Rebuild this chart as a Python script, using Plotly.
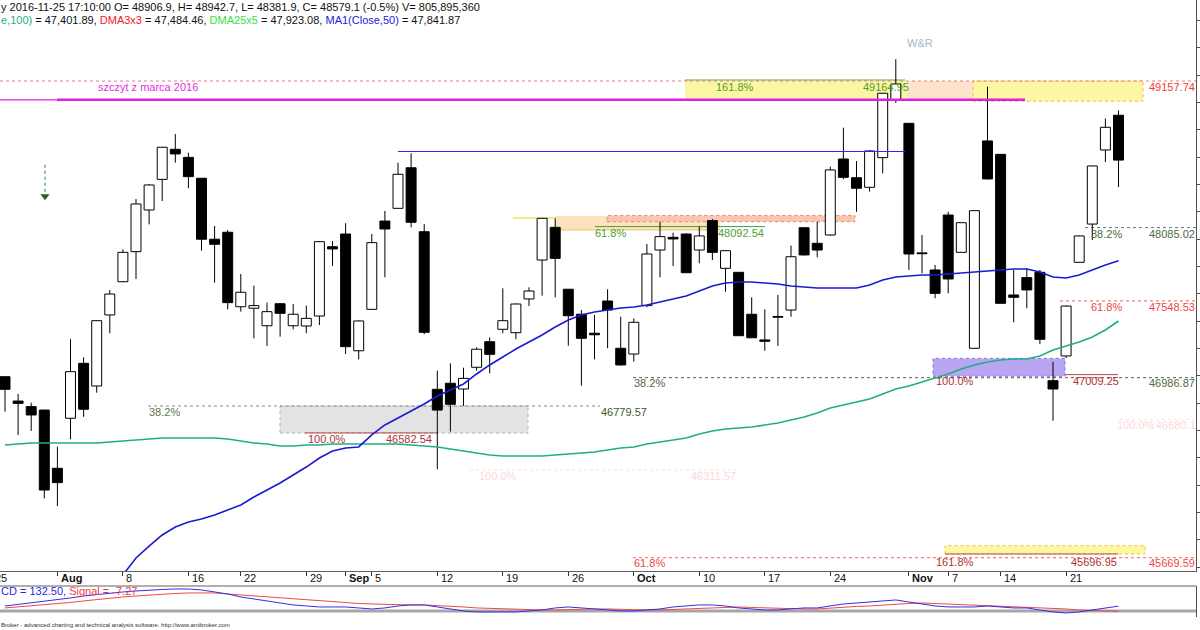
import plotly.graph_objects as go

# ---------------- data ----------------
dates = ["2016-07-26","2016-07-27","2016-07-28","2016-07-29",
 "2016-08-01","2016-08-02","2016-08-03","2016-08-04","2016-08-05","2016-08-08","2016-08-09","2016-08-10","2016-08-11","2016-08-12",
 "2016-08-16","2016-08-17","2016-08-18","2016-08-19","2016-08-22","2016-08-23","2016-08-24","2016-08-25","2016-08-26","2016-08-29","2016-08-30","2016-08-31",
 "2016-09-01","2016-09-02","2016-09-05","2016-09-06","2016-09-07","2016-09-08","2016-09-09","2016-09-12","2016-09-13","2016-09-14","2016-09-15","2016-09-16",
 "2016-09-19","2016-09-20","2016-09-21","2016-09-22","2016-09-23","2016-09-26","2016-09-27","2016-09-28","2016-09-29","2016-09-30",
 "2016-10-03","2016-10-04","2016-10-05","2016-10-06","2016-10-07","2016-10-10","2016-10-11","2016-10-12","2016-10-13","2016-10-14",
 "2016-10-17","2016-10-18","2016-10-19","2016-10-20","2016-10-21","2016-10-24","2016-10-25","2016-10-26","2016-10-27","2016-10-28","2016-10-31",
 "2016-11-02","2016-11-03","2016-11-04","2016-11-07","2016-11-08","2016-11-09","2016-11-10","2016-11-14","2016-11-15","2016-11-16","2016-11-17","2016-11-18",
 "2016-11-21","2016-11-22","2016-11-23","2016-11-24","2016-11-25"]

opens = [46994, 46816, 46775, 46750, 46324, 46690, 47092, 46926, 47446, 47689,
 47909, 48214, 48438, 48658, 48599, 48446, 48000, 48051, 47506, 47495,
 47367, 47528, 47367, 47365, 47438, 47945, 48038, 47184, 47487, 48133,
 48226, 48523, 48055, 46902, 46946, 46904, 47063, 47250, 47341, 47316,
 47563, 47848, 48087, 47634, 47451, 47312, 47548, 47202, 47160, 47514,
 47921, 48014, 48038, 47921, 48136, 47787, 47758, 47451, 47263, 47435,
 47482, 48084, 47970, 48031, 48587, 48450, 48380, 48597, 49019, 48848,
 47899, 47775, 48177, 47904, 47202, 48719, 48621, 47592, 47719, 47758,
 46965, 47146, 47831, 48111, 48653, 48906.9]
highs = [47000, 46868, 46804, 46752, 46482, 47268, 47136, 47409, 47629, 47926,
 48294, 48404, 48675, 48770, 48633, 48448, 48097, 48067, 47746, 47660,
 47536, 47533, 47526, 47514, 47987, 47987, 48117, 47405, 48038, 48207,
 48560, 48629, 48111, 47038, 47092, 47060, 47209, 47282, 47641, 47530,
 47648, 48155, 48153, 47636, 47482, 47446, 47634, 47433, 47421, 47965,
 48128, 48048, 48042, 48092, 48148, 47921, 47760, 47575, 47487, 47592,
 47953, 48089, 48128, 48531, 48816, 48572, 48649, 49070, 49317, 48850,
 48031, 47811, 48201, 48122, 48210, 49116, 48624, 47775, 47787, 47775,
 47104, 47515, 48027, 48539, 48883, 48942.7]
lows = [46738, 46568, 46597, 46104, 46048, 46536, 46701, 46877, 47312, 47687,
 47709, 48109, 48280, 48560, 48373, 47916, 47682, 47487, 47470, 47275,
 47219, 47287, 47341, 47312, 47372, 47804, 47160, 47121, 47482, 47721,
 48225, 48087, 47304, 46317, 46592, 46780, 47038, 47019, 47312, 47268,
 47511, 47587, 47575, 47221, 46928, 47121, 47202, 47076, 47104, 47502,
 47721, 47804, 47753, 47824, 47848, 47616, 47292, 47277, 47184, 47219,
 47433, 47881, 47868, 48027, 48439, 48201, 48348, 48482, 48997, 47775,
 47751, 47568, 47604, 47903, 47200, 48437, 47530, 47392, 47495, 47233,
 46672, 47131, 47830, 47994, 48565, 48381.9]
closes = [46902, 46799, 46714, 46165, 46219, 47031, 46756, 47404, 47599, 47904,
 48258, 48397, 48673, 48624, 48458, 48000, 47963, 47536, 47612, 47514,
 47470, 47458, 47451, 47421, 47982, 47929, 47214, 47402, 47975, 48075,
 48475, 48124, 47319, 46750, 46792, 46982, 47195, 47158, 47404, 47526,
 47621, 48153, 47860, 47440, 47275, 47301, 47482, 47080, 47392, 47892,
 48019, 48002, 47755, 48024, 47904, 47916, 47294, 47279, 47253, 47429,
 47872, 47885, 47921, 48507, 48453, 48373, 48646, 49068, 49136, 47892,
 47894, 47604, 47709, 48121, 48209, 48441, 47531, 47575, 47629, 47268,
 46904, 47511, 48024, 48536, 48819, 48579.1]

ma50_start = 9
ma50 = [45543, 45668, 45755, 45836, 45894, 45931, 45953, 45982, 46019, 46055,
 46114, 46165, 46216, 46275, 46333, 46399, 46450, 46472, 46480, 46568,
 46641, 46692, 46743, 46794, 46853, 46897, 46941, 47014, 47080, 47138,
 47197, 47248, 47299, 47358, 47409, 47446, 47468, 47482, 47497, 47504,
 47519, 47541, 47563, 47585, 47621, 47658, 47680, 47687, 47687, 47680,
 47672, 47658, 47650, 47643, 47643, 47643, 47643, 47665, 47702, 47724,
 47731, 47738, 47738, 47746, 47753, 47760, 47768, 47775, 47782, 47782,
 47760, 47724, 47716, 47738, 47775, 47811, 47841.87]
ma100 = [46494, 46502, 46509, 46509, 46509, 46509, 46509, 46509, 46516, 46524,
 46531, 46538, 46546, 46546, 46546, 46546, 46546, 46538, 46524, 46509,
 46502, 46487, 46487, 46494, 46494, 46502, 46502, 46502, 46502, 46502,
 46502, 46494, 46487, 46480, 46465, 46450, 46436, 46421, 46414, 46414,
 46414, 46414, 46421, 46428, 46436, 46443, 46458, 46472, 46480, 46502,
 46516, 46531, 46546, 46575, 46597, 46611, 46619, 46626, 46641, 46655,
 46677, 46699, 46729, 46765, 46787, 46809, 46831, 46868, 46904, 46926,
 46955, 46985, 47014, 47050, 47080, 47102, 47116, 47124, 47124, 47146,
 47189, 47219, 47248, 47285, 47336, 47401.89]
macd = [137, 178, 219, 260, 301, 356, 410, 451, 492, 519,
 546, 574, 587, 601, 601, 574, 519, 464, 383, 328,
 274, 219, 165, 137, 110, 110, 110, 83, 55, 83,
 137, 165, 165, 110, 55, 1, -26, -26, -26, -26,
 1, 28, 83, 110, 83, 55, 28, 1, 1, 28,
 55, 110, 137, 165, 165, 137, 83, 55, 28, 28,
 55, 83, 83, 137, 192, 219, 246, 274, 301, 246,
 192, 137, 110, 110, 110, 137, 110, 83, 83, 28,
 -26, -54, -26, 28, 83, 132.5]
signal = [83, 110, 137, 165, 192, 233, 274, 315, 356, 383,
 410, 437, 464, 478, 492, 492, 492, 464, 437, 410,
 383, 356, 328, 301, 274, 246, 219, 205, 192, 178,
 165, 165, 165, 151, 137, 110, 83, 69, 55, 42,
 28, 28, 28, 42, 55, 55, 55, 42, 28, 28,
 28, 42, 55, 69, 83, 96, 110, 96, 83, 69,
 55, 55, 55, 83, 110, 124, 137, 165, 192, 205,
 219, 205, 192, 178, 165, 151, 137, 124, 110, 96,
 83, 55, 28, 15, 1, -7.27]

tick_dates = ["2016-07-25", "2016-08-01", "2016-08-08", "2016-08-16", "2016-08-22", "2016-08-29",
              "2016-09-01", "2016-09-05", "2016-09-12", "2016-09-19", "2016-09-26",
              "2016-10-03", "2016-10-10", "2016-10-17", "2016-10-24",
              "2016-11-02", "2016-11-07", "2016-11-14", "2016-11-21"]
tick_texts = ["25", "<b>Aug</b>", "8", "16", "22", "29", "<b>Sep</b>", "5", "12", "19", "26",
              "<b>Oct</b>", "10", "17", "24", "<b>Nov</b>", "7", "14", "21"]

# price levels drawn on the chart
lvl_top = 49157.74
lvl_top_ext = 49164.95
lvl_march = 49020
lvl_blue = 48642
lvl_618a = 48092.54
lvl_382r = 48085.02
lvl_618r = 47548.53
lvl_100p = 47009.25
lvl_382m = 46986.87
lvl_382l = 46779.57
lvl_100f = 46680.1
lvl_100g = 46582.54
lvl_100h = 46311.57
lvl_1618b = 45696.95
lvl_618b = 45669.59

# ---------------- helpers ----------------
W, H = 1200, 630
FONT = "Liberation Sans, Arial, sans-serif"
FS = 11
PX0, STEP = 5.0, 13.1
def xd(px):
    return (px - PX0) / STEP
def xpap(px):
    return px / W
def ypap(py):
    return 1 - py / H

n = len(dates)
idx = list(range(n))
PLOT_R = 1196

fig = go.Figure()

# wicks (split so they never cross the bodies)
wx, wy = [], []
for i in idx:
    top = max(opens[i], closes[i]); bot = min(opens[i], closes[i])
    if highs[i] > top:
        wx += [i, i, None]; wy += [highs[i], top, None]
    if lows[i] < bot:
        wx += [i, i, None]; wy += [bot, lows[i], None]
fig.add_trace(go.Scatter(x=wx, y=wy, mode="lines", line=dict(color="black", width=1),
                         hoverinfo="skip", showlegend=False))

up = [i for i in idx if closes[i] >= opens[i]]
dn = [i for i in idx if closes[i] < opens[i]]
MINH = 6
fig.add_trace(go.Bar(x=up, base=[opens[i] for i in up],
                     y=[max(closes[i] - opens[i], MINH) for i in up], width=0.76,
                     marker=dict(color="white", line=dict(color="black", width=1)),
                     showlegend=False))
fig.add_trace(go.Bar(x=dn, base=[closes[i] for i in dn],
                     y=[max(opens[i] - closes[i], MINH) for i in dn], width=0.76,
                     marker=dict(color="black", line=dict(color="black", width=1)),
                     showlegend=False))

# moving averages
fig.add_trace(go.Scatter(x=idx, y=ma100, mode="lines", line=dict(color="#1fae8a", width=1.6),
                         showlegend=False))
fig.add_trace(go.Scatter(x=list(range(ma50_start, n)), y=ma50, mode="lines",
                         line=dict(color="#1a1ad2", width=1.6), showlegend=False))

# blue horizontal level
fig.add_trace(go.Scatter(x=[xd(398), xd(905)], y=[lvl_blue, lvl_blue], mode="lines",
                         line=dict(color="#2828ff", width=1.2), showlegend=False))

# last close marker on the axis
fig.add_trace(go.Scatter(x=[xd(1199)], y=[closes[-1]], mode="markers", cliponaxis=False,
                         marker=dict(symbol="triangle-left", size=7, color="black"),
                         showlegend=False))

# green dotted arrow head
fig.add_trace(go.Scatter(x=[xd(45)], y=[48315], mode="markers",
                         marker=dict(symbol="triangle-down", size=8, color="#1f6a1f"),
                         showlegend=False))

# MACD pane
fig.add_trace(go.Scatter(x=idx, y=signal, mode="lines", line=dict(color="#f04848", width=1),
                         xaxis="x2", yaxis="y2", showlegend=False))
fig.add_trace(go.Scatter(x=idx, y=macd, mode="lines", line=dict(color="#3030e0", width=1),
                         xaxis="x2", yaxis="y2", showlegend=False))
fig.add_trace(go.Scatter(x=[xd(1199)], y=[macd[-1]], mode="markers", cliponaxis=False,
                         marker=dict(symbol="triangle-left", size=6, color="#2020d0"),
                         xaxis="x2", yaxis="y2", showlegend=False))

# ---------------- shapes ----------------
shapes = []
def hline(y, px1, px2, color, width=1, dash="solid", layer="below"):
    shapes.append(dict(type="line", xref="x", yref="y", x0=xd(px1), x1=xd(px2), y0=y, y1=y,
                       line=dict(color=color, width=width, dash=dash), layer=layer))
def rect(y0, y1, px1, px2, fill, lcolor=None, dash="dot"):
    shapes.append(dict(type="rect", xref="x", yref="y", x0=xd(px1), x1=xd(px2), y0=y0, y1=y1,
                       fillcolor=fill, layer="below",
                       line=dict(color=lcolor if lcolor else "rgba(0,0,0,0)", width=1, dash=dash)))

# top zone
rect(lvl_march + 6, lvl_top, 685, 907, "#fbf6a4")
rect(lvl_march + 6, lvl_top, 907, 973, "#fde3cc")
rect(lvl_march - 10, lvl_top, 973, 1143, "#fcf7a2", "#f0b848")
hline(lvl_top, 0, PLOT_R, "#f07878", 1, "dot")
hline(lvl_top_ext, 685, 905, "#6aa84a", 1)
hline(lvl_march, 0, 57, "#e020e0", 1.2, layer="above")
hline(lvl_march, 57, 1025, "#e020e0", 2.6, layer="above")

# mid-upper zone around 48100
rect(48068, 48170, 555, 720, "#fde3bd")
hline(48068, 555, 720, "#f5c070", 1)
rect(48128, 48174, 607, 855, "#f9c6b4", "#e58a70")
hline(48155, 513, 555, "#f0e060", 1.5)
hline(lvl_618a, 595, 765, "#3ca03c", 1)

# right side levels
hline(lvl_382r, 1085, PLOT_R, "#707070", 1, "dot")
hline(lvl_618r, 1060, PLOT_R, "#f06060", 1, "dot")
hline(lvl_100f, 1120, PLOT_R, "#fbe2e2", 1, "dot")

# purple zone
rect(lvl_100p - 12, 47128, 933, 1065, "#b8a6f2", "#8a70d8")
hline(lvl_382m, 633, PLOT_R, "#555555", 1, "dot")
hline(lvl_100p, 1065, 1118, "#b04848", 1)

# gray zone
rect(lvl_100g, lvl_382l, 280, 528, "#e3e3e3", "#b0b0b0")
hline(lvl_382l, 148, 600, "#8a8a8a", 1, "dot")
hline(lvl_100g, 305, 437, "#b04848", 1)
hline(lvl_100h, 470, 740, "#fbe0e0", 1, "dot")

# bottom zone
rect(lvl_1618b, 45758, 945, 1145, "#fcf7a2", "#f0c048")
hline(lvl_618b, 633, PLOT_R, "#f06060", 1, "dot")
hline(lvl_1618b, 945, 1118, "#b04848", 1)

# green dotted arrow shaft
shapes.append(dict(type="line", xref="x", yref="y", x0=xd(45), x1=xd(45), y0=48545, y1=48330,
                   line=dict(color="#2a7a2a", width=1, dash="dot")))

# MACD baseline
shapes.append(dict(type="line", xref="x2", yref="y2", x0=xd(0), x1=xd(PLOT_R), y0=0, y1=0,
                   line=dict(color="#a6a6a6", width=3), layer="below"))
# separator line between date band and MACD pane
shapes.append(dict(type="line", xref="paper", yref="paper", x0=0, x1=xpap(PLOT_R),
                   y0=ypap(586), y1=ypap(586), line=dict(color="#606060", width=1)))

# ---------------- annotations ----------------
ann = []
def label(text, px, py, color, size=FS, anchor="left"):
    ann.append(dict(text=text, xref="paper", yref="paper", x=xpap(px), y=ypap(py),
                    xanchor=anchor, yanchor="middle", showarrow=False,
                    font=dict(family=FONT, size=size, color=color)))

label("szczyt z marca 2016", 96, 87, "#e030e0")
label("161.8%", 714, 87, "#4f9f28")
label("49164.95", 861, 87, "#4f9f28")
label("49157.74", 1147, 87, "#ee3c3c")
label("W&R", 905, 43, "#a6b6cc")
label("61.8%", 593, 233, "#4f9f2f")
label("48092.54", 716, 233, "#4f9f2f")
label("38.2%", 1089, 234, "#4b6b3b")
label("48085.02", 1147, 234, "#4b6b3b")
label("61.8%", 1089, 307, "#ee4646")
label("47548.53", 1147, 307, "#ee4646")
label("100.0%", 934, 381, "#ae3232")
label("47009.25", 1071, 381, "#ae3232")
label("38.2%", 632, 383, "#4b6b3b")
label("46986.87", 1147, 383, "#4b6b3b")
label("38.2%", 147, 412, "#5a7a4a")
label("46779.57", 599, 412, "#3e5c2e")
label("100.0%", 1115, 425, "#fbd9d9")
label("46680.1", 1154, 425, "#fbd9d9")
label("100.0%", 306, 439, "#ae3232")
label("46582.54", 384, 439, "#ae3232")
label("100.0%", 477, 476, "#fbd9d9")
label("46311.57", 689, 476, "#fbd9d9")
label("61.8%", 632, 563, "#ee4646")
label("161.8%", 934, 562, "#ae3232")
label("45696.95", 1069, 562, "#ae3232")
label("45669.59", 1147, 563, "#ee4646")

# header
label("y 2016-11-25 17:10:00 O= 48906.9, H= 48942.7, L= 48381.9, C= 48579.1 (-0.5%) V= 805,895,360",
      -1, 7, "#111111")
label('<span style="color:#1fae8a">e,100)</span> = 47,401.89, '
      '<span style="color:#f02020">DMA3x3</span> = 47,484.46, '
      '<span style="color:#3ce03c">DMA25x5</span> = 47,923.08, '
      '<span style="color:#2020e0">MA1(Close,50)</span> = 47,841.87', -1, 20, "#111111")
label('<span style="color:#2a2ae0">CD = 132.50, </span><span style="color:#f03c3c">Signal = -7.27</span>',
      -1, 591, "#111111")
label("Broker - advanced charting and technical analysis software. http://www.amibroker.com",
      -1, 625, "#333333", size=6)

# date labels (labels sit just right of their tick, as in the original)
for d, t in zip(tick_dates, tick_texts):
    i = dates.index(d) if d in dates else -1
    px = PX0 + STEP * i
    label(t, px + 1.5, 578, "#111111")

tick_idx = [dates.index(d) if d in dates else -1 for d in tick_dates]

# ---------------- layout ----------------
xr = [xd(0), xd(PLOT_R)]
fig.update_layout(
    width=W, height=H, margin=dict(l=0, r=0, t=0, b=0),
    paper_bgcolor="white", plot_bgcolor="white",
    barmode="overlay", showlegend=False,
    font=dict(family=FONT, size=FS, color="#111111"),
    shapes=shapes, annotations=ann,
    xaxis=dict(domain=[0, PLOT_R / W], range=xr, showgrid=False, zeroline=False,
               showline=True, linecolor="#606060", linewidth=1,
               tickvals=tick_idx, ticks="outside", ticklen=4, tickcolor="#333333",
               showticklabels=False, anchor="y"),
    yaxis=dict(domain=[ypap(571), 1], range=[45572.4, 49750.4], side="right",
               showgrid=False, zeroline=False, showline=True, linecolor="#505050",
               ticks="outside", ticklen=4, tick0=0, dtick=200, tickcolor="#505050",
               showticklabels=False),
    xaxis2=dict(domain=[0, PLOT_R / W], range=xr, matches="x", anchor="y2",
                showgrid=False, zeroline=False, showline=False, showticklabels=False, ticks=""),
    yaxis2=dict(domain=[ypap(617), ypap(586)], range=[-164, 682], side="right",
                showgrid=False, zeroline=False, showline=True, linecolor="#505050",
                showticklabels=False, ticks=""),
)

fig.write_html("out.html", config={"displayModeBar": False},
               post_script="document.body.style.margin='0';document.body.style.overflow='hidden';")
